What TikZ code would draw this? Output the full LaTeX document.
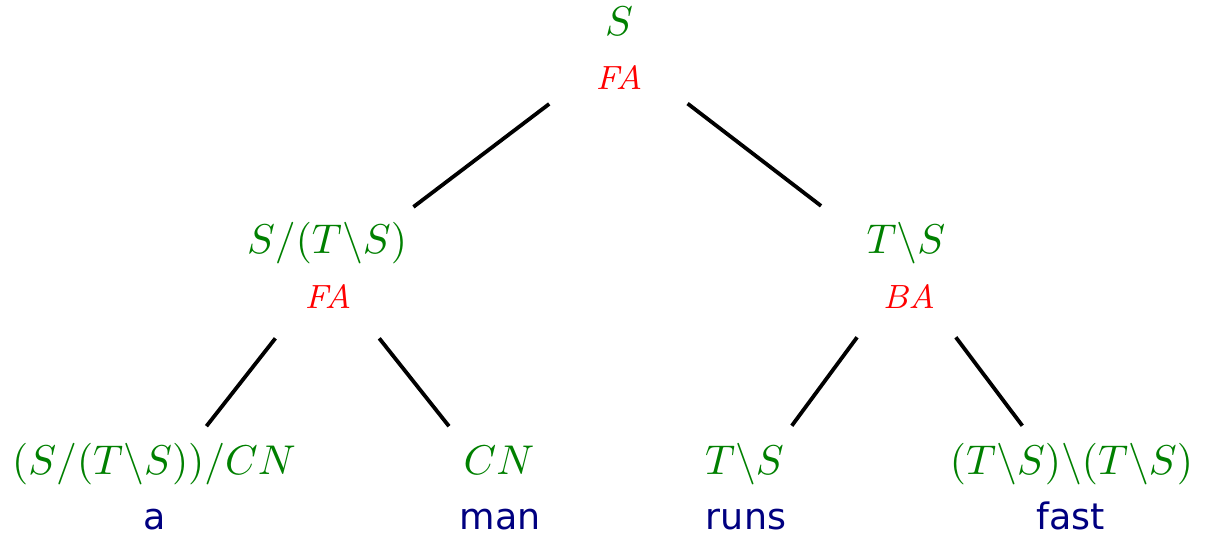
\documentclass[tikz,border=0pt]{standalone}
\usepackage{fontspec}
\newfontfamily\wordfont{DejaVu Sans}
\usetikzlibrary{calc}
\definecolor{catgreen}{RGB}{0,128,0}
\definecolor{wordblue}{RGB}{0,0,128}
\tikzset{
  cat/.style={anchor=base, inner sep=0pt, text=catgreen, transform shape, scale=1.04},
  rulelab/.style={anchor=base, inner sep=0pt, text=red, font=\fontsize{8.4}{10}\selectfont\itshape},
  word/.style={anchor=base, inner sep=0pt, text=wordblue, font=\wordfont\fontsize{9.1}{11}\selectfont},
  branch/.style={draw=black, line width=0.95pt}
}
\begin{document}
\begin{tikzpicture}[x=0.25pt, y=-0.25pt]
\useasboundingbox (0,0) rectangle (1212,534);
% categories and rule labels
\node[cat] (c0) at (619,36) {$S$};
\node[rulelab] (r0) at (619,90) {FA};
\node[cat] (c1) at (327,254) {$S/(T\backslash S)$};
\node[rulelab] (r1) at (328,309) {FA};
\node[cat] (c2) at (906,254) {$T\backslash S$};
\node[rulelab] (r2) at (909,309) {BA};
\node[cat] (c3) at (154,475) {$(S/(T\backslash S))/CN$};
\node[word] (w3) at (154.5,529) {a};
\node[cat] (c4) at (499,475) {$CN$};
\node[word] (w4) at (500,529) {man};
\node[cat] (c5) at (744.5,475) {$T\backslash S$};
\node[word] (w5) at (746,529) {runs};
\node[cat] (c6) at (1071.5,475) {$(T\backslash S)\backslash(T\backslash S)$};
\node[word] (w6) at (1070.5,529) {fast};
% tree-node centres
\coordinate (n0) at (619,51);
\coordinate (n1) at (327,272.5);
\coordinate (n2) at (906,271);
\coordinate (n3) at (156,490.5);
\coordinate (n4) at (500,490.5);
\coordinate (n5) at (744,490.5);
\coordinate (n6) at (1071,490.5);
% branches
\draw[branch] ($(n0)!0.239!(n1)$) -- ($(n0)!0.704!(n1)$);
\draw[branch] ($(n0)!0.239!(n2)$) -- ($(n0)!0.704!(n2)$);
\draw[branch] ($(n1)!0.302!(n3)$) -- ($(n1)!0.705!(n3)$);
\draw[branch] ($(n1)!0.302!(n4)$) -- ($(n1)!0.705!(n4)$);
\draw[branch] ($(n2)!0.302!(n5)$) -- ($(n2)!0.705!(n5)$);
\draw[branch] ($(n2)!0.302!(n6)$) -- ($(n2)!0.705!(n6)$);
\end{tikzpicture}
\end{document}
